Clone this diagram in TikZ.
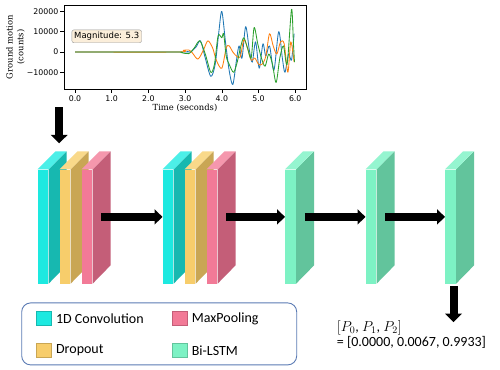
\documentclass[tikz,border=0pt]{standalone}
\usepackage{amsmath}
\usepackage{fontspec}
\setmainfont{Carlito}
\newfontfamily\mplsans{DejaVu Sans}
\newfontfamily\mplserif{DejaVu Serif}
\usepackage{xcolor}
\usepackage{tikz}
\usetikzlibrary{arrows.meta, positioning, calc}

\definecolor{convF}{HTML}{1DE9E0}
\definecolor{convS}{HTML}{17B8B0}
\definecolor{convT}{HTML}{4CEFE8}
\definecolor{dropF}{HTML}{F7CD6B}
\definecolor{dropS}{HTML}{C9A654}
\definecolor{dropT}{HTML}{F9D98A}
\definecolor{poolF}{HTML}{F27A97}
\definecolor{poolS}{HTML}{C45E78}
\definecolor{poolT}{HTML}{F597AD}
\definecolor{lstmF}{HTML}{7DF2C4}
\definecolor{lstmS}{HTML}{62C49C}
\definecolor{lstmT}{HTML}{95F5D0}
\definecolor{mplblue}{HTML}{1F77B4}
\definecolor{mplorange}{HTML}{FF7F0E}
\definecolor{mplgreen}{HTML}{2CA02C}
\definecolor{legendblue}{HTML}{5B7BB4}
\definecolor{magfill}{HTML}{FBEEDA}

% one layer: front face as a node, side and top faces behind it
\newcommand{\layer}[3]{%
    \node[slab, fill=#3F, anchor=north west] (#1) at (#2,169.3) {};
    \fill[#3S] (#1.north east) -- ++(18,-18) -- ++(0,114) -- (#1.south east) -- cycle;
    \fill[#3T] (#1.north west) -- ++(18,-18) -- ++(10.7,0) -- (#1.north east) -- cycle;
}

\begin{document}
\begin{tikzpicture}[
    x=1pt, y=-1pt,
    slab/.style={rectangle, minimum width=10.7pt, minimum height=114pt, inner sep=0pt},
    flow/.style={draw=black, line width=8pt, -{Triangle[length=8pt, width=15pt]}},
    flowdown/.style={draw=black, line width=8pt, -{Triangle[length=8.5pt, width=16.5pt]}},
    key/.style={rectangle, minimum width=15pt, minimum height=14.5pt, inner sep=0pt, line width=0.6pt},
    keytext/.style={inner sep=0pt, font=\fontsize{14}{16}\selectfont},
    tick/.style={line width=0.6pt},
    ticklabel/.style={inner sep=0pt, font=\mplsans\fontsize{7.8}{9}\selectfont},
    axlabel/.style={inner sep=0pt, align=center, font=\mplserif\fontsize{8.4}{10.7}\selectfont},
    wave/.style={line width=0.85pt, line join=round}
]
    \useasboundingbox[fill=white] (0,0) rectangle (500,369);

    % Waveform plot
    \node[draw, line width=0.6pt, minimum width=242pt, minimum height=84.3pt, inner sep=0pt, anchor=north west] (axes) at (64,5) {};
    \foreach \v/\lab in {20/20000, 10/10000, 0/0, -10/−10000} {
        \draw[tick] (64,52-2.03*\v) -- (60,52-2.03*\v);
        \node[ticklabel, anchor=east] at (58.5,52-2.03*\v) {\lab};
    }
    \foreach \t in {0,...,6} {
        \draw[tick] (75+36.7*\t,89.3) -- (75+36.7*\t,93.3);
        \node[ticklabel, anchor=base] at (75+36.7*\t,101.5) {\t.0};
    }
    \node[axlabel, rotate=90] (ylab) at (15.5,47) {Ground motion\\(counts)};
    \node[axlabel] (xlab) at (185,107.5) {Time (seconds)};
    \begin{scope}[shift={(75,52)}, x=36.7pt, y=2.03pt]
        \draw[wave, mplblue] plot[smooth, tension=0.5] coordinates {(0,0) (2.9,0) (3.05,0.2) (3.15,0) (3.3,2.5) (3.42,5.5) (3.55,-3) (3.7,-12) (3.82,-6) (3.92,10) (4.0,20) (4.1,5) (4.2,-9) (4.3,-16) (4.4,-4) (4.47,3) (4.55,-3) (4.65,12.5) (4.75,1) (4.83,-5) (4.92,5) (5.02,-8) (5.12,4) (5.2,-2) (5.3,3) (5.42,-9) (5.55,10) (5.65,-3) (5.72,-10) (5.82,-1) (5.9,-4) (5.97,9)};
        \draw[wave, mplorange] plot[smooth, tension=0.5] coordinates {(0,0) (2.8,0) (2.95,0.8) (3.1,1) (3.2,-0.5) (3.35,-3.5) (3.5,1) (3.62,5.5) (3.75,2) (3.85,-4) (4.0,-8) (4.12,2) (4.2,3) (4.3,0) (4.4,-2) (4.5,-2.5) (4.6,6) (4.7,2) (4.8,-4) (4.9,-3) (5.0,-6) (5.1,-6) (5.2,-2) (5.3,9) (5.4,3) (5.5,-1) (5.6,5) (5.7,4) (5.8,-10) (5.88,5) (5.97,-5)};
        \draw[wave, mplgreen] plot[smooth, tension=0.5] coordinates {(0,0) (2.7,0) (2.9,-0.3) (3.1,-0.8) (3.25,2) (3.4,5.5) (3.55,-1) (3.7,-10) (3.8,-6) (3.9,8) (4.0,7) (4.05,9) (4.12,-2) (4.2,-6) (4.32,-10) (4.42,-5) (4.52,3) (4.6,7) (4.7,2) (4.8,-3) (4.88,12) (4.98,4) (5.08,-3) (5.18,-7) (5.28,-1) (5.38,-6) (5.48,-15) (5.58,-3) (5.68,3) (5.78,-6) (5.9,21) (5.95,5) (5.98,-5)};
    \end{scope}
    \node[draw=black!40, fill=magfill, rounded corners=2pt, inner sep=2.3pt, anchor=west, font=\mplsans\fontsize{8.5}{10}\selectfont] (mag) at (71.7,36.3) {Magnitude: 5.3};

    % Layers
    \layer{c1}{37.5}{conv}
    \layer{d1}{59.5}{drop}
    \layer{p1}{81.5}{pool}
    \layer{c2}{162.5}{conv}
    \layer{d2}{184.5}{drop}
    \layer{p2}{206.5}{pool}
    \layer{l1}{285}{lstm}
    \layer{l2}{365.5}{lstm}
    \layer{l3}{445}{lstm}

    % Connectors
    \coordinate (sig) at (59.2,107);
    \draw[flowdown, shorten >=26pt] (sig) -- (sig |- c1.north);
    \coordinate (o1) at ($(p1.east)+(8.7,-9.6)$);
    \coordinate (o2) at ($(p2.east)+(8.7,-9.6)$);
    \coordinate (o3) at ($(l1.east)+(8.7,-9.6)$);
    \coordinate (o4) at ($(l2.east)+(8.7,-9.6)$);
    \draw[flow] (o1) -- (o1 -| c2.west);
    \draw[flow] (o2) -- (o2 -| l1.west);
    \draw[flow] (o3) -- (o3 -| l2.west);
    \draw[flow] (o4) -- (o4 -| l3.west);

    % Output
    \node[keytext, anchor=north west, align=left, font=\fontsize{14}{15}\selectfont] (probs) at (336.7,320) {$[P_0$, $P_1$, $P_2]$\\= [0.0000, 0.0067, 0.9933]};
    \coordinate (res) at ($(l3.south)+(3,2.7)$);
    \draw[flowdown] (res) -- ++(0,35.7);

    % Legend
    \node[draw=legendblue, line width=0.9pt, rounded corners=9pt, minimum width=275pt, minimum height=62pt, inner sep=0pt] (legend) at (159.2,333.9) {};
    \node[key, fill=convF, draw=convS] (kconv) at (43.8,318.5) {};
    \node[keytext, right=4.3pt of kconv] {1D Convolution};
    \node[key, fill=dropF, draw=dropS] (kdrop) at (43.8,350.3) {};
    \node[keytext, right=4.3pt of kdrop] {Dropout};
    \node[key, fill=poolF, draw=poolS] (kpool) at (179.5,318.5) {};
    \node[keytext, right=4.3pt of kpool] {MaxPooling};
    \node[key, fill=lstmF, draw=lstmS] (klstm) at (179.5,350.3) {};
    \node[keytext, right=4.3pt of klstm] {Bi-LSTM};
\end{tikzpicture}
\end{document}
